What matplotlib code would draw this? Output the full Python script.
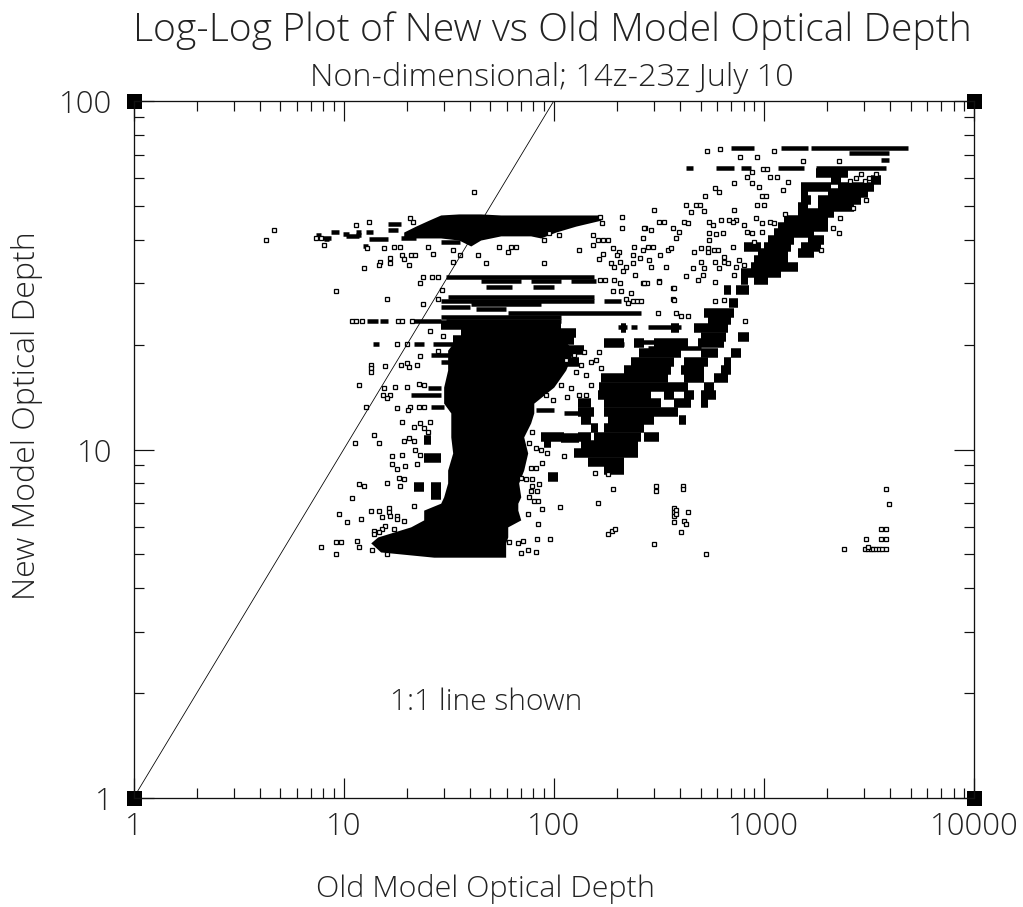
import matplotlib
matplotlib.use("Agg")
import matplotlib.pyplot as plt

TITLE = "Log-Log Plot of New vs Old Model Optical Depth"
SUBTITLE = "Non-dimensional; 14z-23z July 10"
XLABEL = "Old Model Optical Depth"
YLABEL = "New Model Optical Depth"
NOTE = "1:1 line shown"
X_TICKS = [1, 10, 100, 1000, 10000]
Y_TICKS = [1, 10, 100]
LINE_1TO1 = [1, 100]

# sparse individual points (old, new)
pts_upper_left = [(1.619,1.739),(1.057,1.644),(1.119,1.653),(1.314,1.664),(1.329,1.653),(.667,1.63),(.629,1.601),
 (.905,1.587),(.867,1.607),(.89,1.607),(1.11,1.578),(1.19,1.578),(1.238,1.581),(1.267,1.581),(1.276,1.558),
 (1.286,1.546),(1.31,1.529),(1.319,1.558),(1.338,1.558),(1.219,1.549),(1.219,1.535),(1.171,1.538),(1.167,1.529),
 (1.095,1.521),(1.424,1.561),(1.4,1.581),(1.519,1.538),(1.519,1.572),(1.552,1.558),(1.638,1.558),(1.676,1.535),
 (1.952,1.535),(1.952,1.601),(2.024,1.615),(1.738,1.581),(1.781,1.566),(1.795,1.581),(1.819,1.581),(1.976,1.621),
 (1.376,1.495),(1.419,1.495),(1.448,1.495),(1.362,1.478),(.962,1.455),(1.205,1.432),(1.467,1.457),(1.376,1.417),
 (1.448,1.432),(1.038,1.369),(1.057,1.369),(1.086,1.369),(1.257,1.369),(1.276,1.369),(1.324,1.369),(1.41,1.34),
 (1.471,1.325),(1.252,1.302),(1.3,1.302),(1.362,1.268),(1.448,1.282),(1.129,1.242),(1.129,1.234),(1.129,1.222),
 (1.195,1.239),(1.271,1.242),(1.3,1.248),(1.31,1.237),(1.348,1.242)]
pts_lower_left = [(1.071,1.185),(1.19,1.176),(1.243,1.179),(1.3,1.179),(1.357,1.188),(1.381,1.185),(1.186,1.156),
 (1.219,1.156),(1.205,1.148),(1.105,1.122),(1.252,1.119),(1.314,1.122),(1.305,1.113),(1.357,1.122),(1.381,1.122),
 (1.276,1.079),(1.333,1.064),(1.362,1.076),(1.41,1.079),(1.381,1.062),(1.4,1.05),(1.143,1.041),(1.052,1.018),
 (1.167,1.018),(1.286,1.024),(1.31,1.033),(1.333,1.024),(1.338,.998),(1.362,.984),(1.229,.981),(1.276,.984),
 (1.229,.958),(1.252,.944),(1.29,.953),(1.348,.958),(1.262,.918),(1.286,.915),(1.205,.904),(1.071,.901),(1.095,.895),
 (1.267,.895),(1.038,.861),(1.333,.838),(1.214,.832),(1.214,.821),(1.129,.823),(1.167,.823),(.976,.815),(1.181,.806),
 (1.219,.809),(1.252,.809),(1.252,.8),(1.081,.8),(1.014,.792),(1.286,.795),(1.195,.78),(1.181,.772),(1.238,.772),
 (1.143,.766),(1.143,.757),(1.167,.763),(1.062,.737),(1.071,.72),(.962,.734),(.986,.734),(.89,.72),(.962,.7),
 (1.133,.712),(1.205,.7)]
pts_right_of_column = [(1.895,1.05),(1.881,1.018),(1.914,1.004),(1.938,.998),(1.967,.99),(2.048,.981),(1.943,.961),
 (1.89,.947),(1.914,.947),(1.843,.918),(1.867,.915),(1.895,.915),(1.929,.901),(1.895,.895),(1.89,.881),(1.919,.881),
 (1.881,.864),(1.905,.852),(1.924,.852),(1.943,.829),(1.876,.815),(1.924,.786),(1.919,.743),(1.981,.743),(1.786,.734),
 (1.829,.732),(1.852,.737),(1.876,.712),(1.914,.706),(1.843,.703),(2.195,.932),(2.257,.93),(2.21,.846),(2.281,.887),
 (2.257,.757),(2.276,.766),(2.29,.772),(2.029,.835)]
pts_gap = [(1.962,1.156),(1.995,1.142),(2.033,1.185),(2.081,1.176),(2.119,1.156),(2.176,1.185),(2.152,1.156),
 (2.062,1.151),(2.105,1.222),(2.152,1.214),(2.176,1.251),(2.057,1.257),(2.095,1.271),(2.143,1.279),(2.2,1.257),
 (2.224,1.234),(2.214,1.279),(2.129,1.242)]
pts_mid_right = [(2.219,1.667),(2.324,1.667),(2.229,1.65),(2.324,1.635),(2.433,1.635),(2.186,1.615),(2.424,1.607),
 (2.21,1.601),(2.233,1.601),(2.257,1.601),(2.186,1.587),(2.119,1.572),(2.281,1.578),(2.31,1.566),(2.3,1.558),
 (2.233,1.561),(2.214,1.546),(2.271,1.535),(2.286,1.523),(2.314,1.538),(2.343,1.523),(2.329,1.512),(2.376,1.558),
 (2.376,1.535),(2.381,1.581),(2.41,1.549),(2.424,1.572),(2.448,1.581),(2.471,1.581),(2.386,1.5),(2.424,1.478),
 (2.443,1.478),(2.5,1.484),(2.281,1.455),(2.319,1.455),(2.367,1.449),(2.219,1.486),(2.243,1.486),(2.286,1.486),
 (2.314,1.478),(2.343,1.432),(2.352,1.42),(2.376,1.426),(2.395,1.426),(2.414,1.426),(2.567,1.463),(2.567,1.432)]
pts_upper_right = [(2.729,1.857),(2.79,1.862),(2.886,1.839),(2.967,1.839),(3.048,1.857),(3.186,1.827),(3.357,1.827),
 (2.995,1.804),(3.014,1.804),(2.919,1.782),(2.943,1.796),(2.857,1.764),(2.943,1.764),(2.976,1.753),(3.029,1.782),
 (3.062,1.782),(3.114,1.767),(3.09,1.744),(2.767,1.75),(2.786,1.739),(2.719,1.727),(2.99,1.727),(3.01,1.727),
 (2.967,1.701),(3.0,1.701),(2.629,1.701),(2.676,1.701),(2.695,1.701),(2.652,1.681),(2.476,1.687),(2.714,1.684),
 (2.857,1.687),(3.1,1.675),(3.486,1.716),(3.424,1.693),(3.362,1.664),(3.329,1.635),(3.357,1.621),(3.271,1.572),
 (2.5,1.653),(2.524,1.653),(2.619,1.653),(2.638,1.65),(2.738,1.653),(2.757,1.644),(2.795,1.658),(2.833,1.658),
 (2.867,1.658),(2.852,1.653),(2.905,1.644),(2.962,1.664),(2.99,1.65),(3.029,1.653),(3.048,1.65),(2.429,1.635),
 (2.462,1.63),(2.567,1.635),(2.595,1.624),(2.581,1.607),(2.738,1.621),(2.738,1.601),(2.771,1.618),(2.805,1.621),
 (2.919,1.624),(2.943,1.621),(2.99,1.624),(2.952,1.595),(2.543,1.572),(2.557,1.578),(2.667,1.566),(2.7,1.578),
 (2.733,1.578),(2.733,1.566),(2.762,1.572),(2.781,1.572),(2.852,1.581),(2.505,1.558),(2.452,1.544),(2.462,1.523),
 (2.533,1.523),(2.662,1.521),(2.714,1.521),(2.7,1.538),(2.767,1.538),(2.81,1.552),(2.81,1.538),(2.829,1.535),
 (2.867,1.523),(2.786,1.521),(2.881,1.544),(2.905,1.529),(2.629,1.498),(2.71,1.5),(2.686,1.486),(2.857,1.5),
 (2.767,1.48),(2.571,1.463),(2.429,1.478),(2.5,1.48),(2.571,1.429),(2.767,1.426),(2.81,1.429),(2.495,1.391),
 (2.581,1.391),(2.605,1.383),(2.638,1.383),(2.91,1.369),(3.438,1.78),(3.462,1.79),(3.5,1.78),(3.533,1.79),
 (3.41,1.77),(3.48,1.77)]
pts_lower_right = [(2.486,.895),(2.486,.881),(2.614,.895),(2.614,.887),(2.571,.832),(2.571,.821),(2.571,.809),
 (2.581,.826),(2.581,.815),(2.638,.821),(2.571,.792),(2.619,.795),(2.629,.786),(2.605,.763),(2.476,.729),(2.724,.7),
 (3.581,.887),(3.595,.843),(3.557,.772),(3.581,.772),(3.486,.743),(3.557,.743),(3.581,.743),(3.381,.714),(3.481,.714),
 (3.495,.714),(3.51,.714),(3.519,.714),(3.533,.714),(3.548,.714),(3.562,.714),(3.581,.714),(3.495,.72)]

# runs of overplotted points forming solid streaks: (new, old_start, old_end)
thin_runs = [(1.495,1.486,2.19),(1.484,1.652,1.843),(1.484,1.89,2.033),(1.484,2.081,2.2),(1.437,1.495,2.19),
 (1.426,1.462,2.19),(1.426,2.238,2.319),(1.417,1.605,1.938),(1.41,1.462,1.6),(1.391,1.781,2.414),(1.403,1.629,1.771),(1.38,1.462,2.033),
 (1.369,1.486,2.033),(1.346,1.962,2.01),(1.465,1.676,1.8),(1.465,1.9,2.0),
 (1.369,1.11,1.162),(1.369,1.171,1.21),(1.369,1.333,1.462),(1.302,1.138,1.167),(1.302,1.333,1.381),(1.302,1.424,1.53),
 (1.351,2.448,2.605),(1.351,2.305,2.348),(1.351,2.367,2.395),(1.308,2.381,2.476),(1.302,2.238,2.333),(1.291,2.448,2.7),
 (1.27,1.414,1.5),(1.25,1.462,1.5),(1.624,.938,.976),(1.618,.995,1.024),(1.624,1.057,1.081),(1.615,1.057,1.081),
 (1.624,1.105,1.138),(1.604,1.119,1.21),(1.615,.867,.89),(1.604,.905,.929),(1.607,.881,.938),(1.613,1.01,1.071),(1.584,1.09,1.114),(1.647,1.21,1.271),
 (1.63,1.21,1.257),(1.607,1.271,1.343),(1.595,1.462,1.552),(1.865,3.224,3.686),(1.865,2.843,2.952),(1.865,3.081,3.21),(1.851,3.405,3.595),
 (1.83,3.557,3.595),(1.808,2.771,2.857),(1.808,2.89,2.938),(1.808,3.067,3.19),(1.808,3.248,3.581),(1.808,2.629,2.662),
 (1.156,1.319,1.462),(1.122,1.414,1.476),(1.176,1.4,1.462),(1.113,1.914,2.0),(1.105,2.05,2.114)]
thick_runs = [(1.357,1.462,2.033),(1.334,1.557,2.105),(1.314,1.519,2.095),
 (1.391,2.714,2.857),(1.371,2.733,2.843),(1.348,2.667,2.829),(1.348,2.557,2.595),(1.348,2.319,2.343),
 (1.323,2.7,2.819),(1.323,2.876,2.929),(1.305,2.238,2.333),(1.305,2.381,2.429),(1.305,2.476,2.638),(1.305,2.686,2.81),
 (1.277,2.405,2.605),(1.277,2.7,2.781),(1.277,2.843,2.89),(1.251,2.367,2.571),(1.251,2.619,2.733),(1.251,2.81,2.843),
 (1.228,2.333,2.557),(1.228,2.605,2.714),(1.228,2.795,2.843),(1.205,2.224,2.543),(1.205,2.619,2.714),(1.205,2.762,2.829),
 (1.179,2.214,2.638),(1.179,2.714,2.762),(1.156,2.21,2.462),(1.156,2.524,2.571),(1.156,2.619,2.667),(1.156,2.7,2.771),
 (1.133,2.114,2.176),(1.133,2.238,2.51),(1.133,2.571,2.652),(1.133,2.7,2.733),(1.107,2.114,2.19),(1.107,2.238,2.59),
 (1.084,2.129,2.176),(1.084,2.257,2.476),(1.084,2.595,2.629),(1.062,2.176,2.21),(1.062,2.238,2.429),(1.036,2.114,2.176),
 (1.036,2.19,2.414),(1.036,2.429,2.5),(1.013,2.129,2.4),(.99,2.095,2.4),(.964,2.162,2.333),(.941,2.238,2.333),
 (1.285,2.033,2.143),(1.251,2.033,2.119),(1.036,1.938,2.048),(1.033,2.033,2.119),(1.018,1.952,1.986),(.921,1.971,2.019),
 (.976,1.381,1.462),(1.027,1.381,1.414),(.892,1.333,1.381),(.892,1.414,1.462),(.87,1.414,1.462),
 (1.793,3.248,3.4),(1.773,3.319,3.367),(1.773,3.51,3.557),(1.753,3.176,3.319),(1.753,3.352,3.524),(1.736,3.305,3.495),
 (1.736,3.176,3.21),(1.716,3.257,3.462),(1.716,3.176,3.224),(1.696,3.257,3.429),(1.696,3.162,3.21),(1.678,3.162,3.333),
 (1.658,3.095,3.305),(1.638,3.067,3.305),(1.621,3.048,3.238),(1.601,3.019,3.143),(1.601,3.21,3.286),(1.581,3.0,3.129),
 (1.581,2.905,2.986),(1.581,3.176,3.271),(1.564,2.971,3.114),(1.564,3.162,3.238),(1.544,2.952,3.114),(1.523,2.938,3.162),
 (1.506,2.89,3.081),(1.486,2.952,3.019),(1.486,2.89,2.924),(1.457,2.81,2.843),(1.457,2.867,2.929),(1.42,2.833,2.876)]

# outline of the saturated main column: new, old_left, old_right
column_new = [1.323,1.285,1.228,1.179,1.133,1.105,1.076,1.036,.99,.941,.904,.864,.846,.826,.798,.778,.749,.732,.706,.691]
column_left = [1.543,1.495,1.495,1.476,1.476,1.51,1.51,1.51,1.519,1.495,1.495,1.476,1.462,1.381,1.381,1.319,1.162,1.129,1.176,1.429]
column_right = [2.033,2.095,2.057,2.0,1.905,1.905,1.89,1.857,1.876,1.857,1.833,1.843,1.829,1.829,1.843,1.781,1.781,1.771,1.771,1.771]

# outline of the saturated band near 45: old, new_top, new_bottom
band_old = [1.286,1.343,1.405,1.462,1.548,1.605,1.652,1.748,1.89,1.938,2.01,2.105,2.224]
band_top = [1.624,1.641,1.658,1.673,1.676,1.676,1.676,1.673,1.673,1.673,1.673,1.673,1.673]
band_bottom = [1.607,1.607,1.607,1.607,1.601,1.584,1.601,1.613,1.613,1.607,1.624,1.641,1.658]

W, H = 1023, 907
L, R, T, B = 133.5, 974, 101, 798
PX = 0.72  # points per pixel at dpi 100
FONT = ["Open Sans", "DejaVu Sans"]
plt.rcParams["font.family"] = FONT
INK = "#222222"

fig = plt.figure(figsize=(W / 100, H / 100), dpi=100, facecolor="white")
ax = fig.add_axes([L / W, 1 - B / H, (R - L) / W, (B - T) / H])
ax.set_xscale("log")
ax.set_yscale("log")
ax.set_xlim(1, 10000)
ax.set_ylim(1, 100)

def p10(seq):
    return [10 ** v for v in seq]

ax.fill_betweenx(p10(column_new), p10(column_left), p10(column_right), color="black", lw=0)
ax.fill_between(p10(band_old), p10(band_bottom), p10(band_top), color="black", lw=0)
for runs, lw in ((thin_runs, 4.5 * PX), (thick_runs, 9.5 * PX)):
    ax.hlines(p10([r[0] for r in runs]), p10([r[1] for r in runs]), p10([r[2] for r in runs]),
              colors="black", linewidth=lw, capstyle="butt")
for group in (pts_upper_left, pts_lower_left, pts_right_of_column, pts_gap, pts_mid_right, pts_upper_right, pts_lower_right):
    ax.plot(p10([g[0] for g in group]), p10([g[1] for g in group]), ls="none", marker="s",
            ms=3.6 * PX, mfc="white", mec="black", mew=1.3 * PX)
ax.plot(LINE_1TO1, LINE_1TO1, color="black", lw=0.8 * PX)

for xc in (1, 10000):
    for yc in (1, 100):
        ax.plot([xc], [yc], marker="s", ms=15 * PX, color="black", mew=0, clip_on=False, zorder=1.5)

for s in ax.spines.values():
    s.set_linewidth(1.3 * PX)
    s.set_color("#111111")
ax.tick_params(which="major", direction="in", length=20 * PX, width=1.2 * PX, top=True, right=True, color="#111111", pad=13 * PX)
ax.tick_params(which="minor", direction="in", length=10 * PX, width=1.2 * PX, top=True, right=True, color="#111111")
ax.set_xticks(X_TICKS, [str(v) for v in X_TICKS], fontsize=31 * PX, color=INK, fontweight="light")
ax.set_yticks(Y_TICKS, [str(v) for v in Y_TICKS], fontsize=31 * PX, color=INK, fontweight="light")
ax.tick_params(axis="y", pad=21 * PX)

def put(x, y, s, px, **kw):
    fig.text(x / W, 1 - y / H, s, fontsize=px * PX, color=INK, ha="center", va="center", fontweight="light", **kw)

put(552, 30, TITLE, 39)
put(552, 78, SUBTITLE, 32.5)
put(485, 889, XLABEL, 30.5)
put(27, 416, YLABEL, 32, rotation=90)
put(486, 702, NOTE, 30)

fig.savefig("out.png", dpi=100)
